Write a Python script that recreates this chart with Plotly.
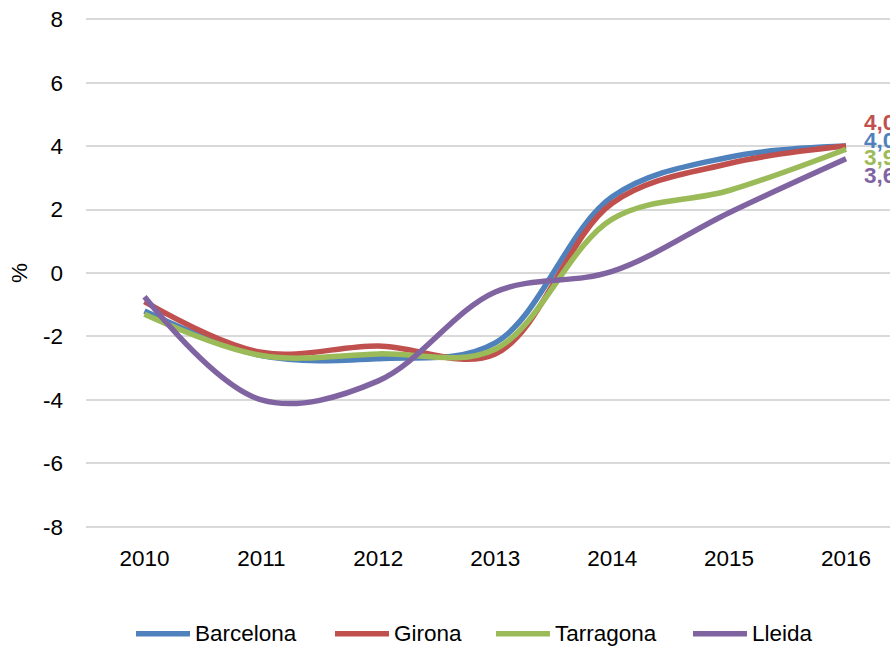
import plotly.graph_objects as go

years = ["2010", "2011", "2012", "2013", "2014", "2015", "2016"]
barcelona = [-1.2, -2.6, -2.7, -2.2, 2.4, 3.65, 4.0]
girona = [-0.9, -2.5, -2.3, -2.55, 2.2, 3.45, 4.0]
tarragona = [-1.3, -2.6, -2.55, -2.4, 1.7, 2.6, 3.9]
lleida = [-0.75, -4.0, -3.4, -0.6, 0.05, 1.9, 3.6]
y_ticks = [-8, -6, -4, -2, 0, 2, 4, 6, 8]

names = ["Barcelona", "Girona", "Tarragona", "Lleida"]
values = [barcelona, girona, tarragona, lleida]
colors = ["#4F81BD", "#C0504D", "#9BBB59", "#8064A2"]
label_yshift = [6, 24, -8, -17]          # style: spread end labels
legend_px = [136, 335, 496, 693]         # style: legend item left edges (px)

FONT = "Liberation Sans, Arial, sans-serif"
FS = 22.5

W, H = 890, 650
L, T = 86, 15.8
PLOT_W = W - L
Y0, Y1 = -8.1, 8.1
PX_PER_UNIT = 31.75
PLOT_H = (Y1 - Y0) * PX_PER_UNIT
B = H - T - PLOT_H


def px_to_paper_x(px):
    return (px - L) / PLOT_W


def py_to_paper_y(py):
    return (T + PLOT_H - py) / PLOT_H


fig = go.Figure()
for name, vals, color in zip(names, values, colors):
    fig.add_trace(go.Scatter(
        x=years, y=vals, name=name, mode="lines",
        line=dict(color=color, width=5.5, shape="spline", smoothing=1.0),
        cliponaxis=False, showlegend=False,
    ))

# end-of-line value labels
for vals, color, ys in zip(values, colors, label_yshift):
    fig.add_annotation(
        x=len(years) - 1, y=vals[-1], xref="x", yref="y",
        text="<b>" + f"{vals[-1]:.1f}".replace(".", ",") + "</b>",
        showarrow=False, xanchor="left", yanchor="middle",
        xshift=16, yshift=ys,
        font=dict(family=FONT, size=FS, color=color),
    )

# legend (drawn manually to match long line symbols)
leg_y = py_to_paper_y(634)
for name, color, lx in zip(names, colors, legend_px):
    fig.add_shape(
        type="line", xref="paper", yref="paper",
        x0=px_to_paper_x(lx), x1=px_to_paper_x(lx + 54), y0=leg_y, y1=leg_y,
        line=dict(color=color, width=5.5),
    )
    fig.add_annotation(
        x=px_to_paper_x(lx + 57), y=leg_y, xref="paper", yref="paper",
        text=name, showarrow=False, xanchor="left", yanchor="middle",
        font=dict(family=FONT, size=FS, color="#000000"),
    )

fig.update_layout(
    width=W, height=H,
    margin=dict(l=L, r=0, t=T, b=B, autoexpand=False),
    paper_bgcolor="white", plot_bgcolor="white",
    font=dict(family=FONT, size=FS, color="#000000"),
    showlegend=False,
    xaxis=dict(
        type="category", range=[-0.5, 6.376],
        showgrid=False, showline=False, zeroline=False,
        ticks="", ticklabelstandoff=12,
        tickfont=dict(family=FONT, size=FS, color="#000000"),
    ),
    yaxis=dict(
        range=[Y0, Y1], tickvals=y_ticks, ticktext=[str(v) for v in y_ticks],
        showgrid=True, gridcolor="#D9D9D9", gridwidth=2,
        zeroline=False, showline=False, ticks="",
        ticklabelstandoff=22,
        tickfont=dict(family=FONT, size=FS, color="#000000"),
        title=dict(text="%", standoff=9, font=dict(family=FONT, size=FS, color="#000000")),
    ),
)

fig.write_html(
    "out.html",
    config={"displayModeBar": False},
    post_script="document.body.style.margin='0';document.body.style.overflow='hidden';",
)
